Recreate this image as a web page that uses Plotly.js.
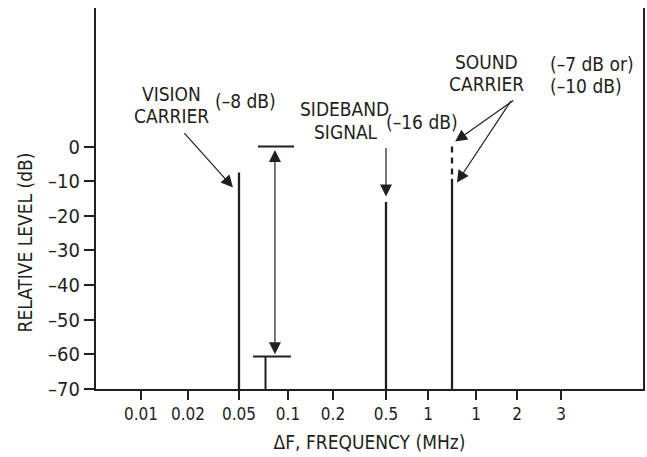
<!DOCTYPE html>
<html><head><meta charset="utf-8">
<script src="https://cdn.plot.ly/plotly-3.0.1.min.js"></script>
<style>html,body{margin:0;padding:0;background:#fff}#chart{width:647px;height:457px}</style>
</head><body><div id="chart"></div>
<script>
// Tick labels of the frequency axis (MHz) and where each sits on the drawn (non-uniform) scale
const tickLabels = ['0.01', '0.02', '0.05', '0.1', '0.2', '0.5', '1', '1', '2', '3'];
const tickScale  = [0, 1.007, 2.1, 3.15, 4.114, 5.25, 6.15, 7.179, 8.057, 9];
const yTickVals  = [0, -10, -20, -30, -40, -50, -60, -70];
const yTickText  = ['0', '–10', '–20', '–30', '–40', '–50', '–60', '–70'];

// Spectral lines: position as (fractional) tick index, level in dB
const signalNames = ['Vision carrier', 'Sideband signal', 'Sound carrier'];
const signalTick  = [2, 5, 6.5];
const signalLevel = [-7.5, -16, -9.3];
const soundAltLevel = 0;      // dashed extension of the sound carrier
const floorLevel = -70;

// Dynamic range bracket (dB)
const rangeTop = 0;
const rangeBottom = -60.6;

const INK = '#231f20';
const FONT = 'DejaVu Sans Condensed, Liberation Sans, Arial, sans-serif';
const TS = 19;

function scaleAt(t) {
  const i = Math.floor(t);
  if (i >= tickScale.length - 1) return tickScale[tickScale.length - 1];
  return tickScale[i] + (t - i) * (tickScale[i + 1] - tickScale[i]);
}

const lx = [], ly = [];
signalTick.forEach((t, k) => {
  const x = scaleAt(t);
  lx.push(x, x, null);
  ly.push(floorLevel, signalLevel[k], null);
});
const soundX = scaleAt(signalTick[2]);

const traces = [
  {x: lx, y: ly, mode: 'lines', line: {color: INK, width: 2.3}, hoverinfo: 'skip', showlegend: false},
  {x: [soundX, soundX], y: [soundAltLevel, signalLevel[2] - 0.2], mode: 'lines',
   line: {color: INK, width: 2.3, dash: '6px,5px'}, hoverinfo: 'skip', showlegend: false}
];

function txt(text, x, y, xanchor) {
  return {text: text, x: x, y: y, xref: 'x', yref: 'y', showarrow: false,
          xanchor: xanchor || 'center', yanchor: 'middle',
          font: {family: FONT, size: TS, color: INK}};
}
function arrow(x, y, ax, ay, both) {
  return {text: '', x: x, y: y, ax: ax, ay: ay, xref: 'x', yref: 'y', axref: 'x', ayref: 'y',
          showarrow: true, arrowhead: 2, arrowsize: 2, arrowwidth: 1.2, arrowcolor: INK,
          arrowside: both ? 'end+start' : 'end', standoff: 0, startstandoff: 0};
}

const annotations = [
  txt('VISION', 0.664, 15.3), txt('CARRIER', 0.664, 8.8), txt('(–8 dB)', 2.25, 13.1),
  txt('SIDEBAND', 4.37, 10.7), txt('SIGNAL', 4.40, 4.3), txt('(–16 dB)', 6.02, 7.07),
  txt('SOUND', 7.40, 24.4), txt('CARRIER', 7.41, 18.0),
  txt('(–7 dB or)', 8.72, 23.7, 'left'), txt('(–10 dB)', 8.72, 17.5, 'left'),
  arrow(1.971, -11.84, 0.9, 4.33),
  arrow(scaleAt(signalTick[1]), -14.4, scaleAt(signalTick[1]), 0),
  arrow(6.73, 1.44, 8.01, 13.6),
  arrow(6.77, -10.4, 7.95, 13.6),
  arrow(2.87, rangeBottom + 0.6, 2.87, rangeTop - 0.6, true),
  {text: 'RELATIVE LEVEL (dB)', x: -0.128, y: -27.7, xref: 'paper', yref: 'y', showarrow: false,
   textangle: -90, xanchor: 'center', yanchor: 'middle', font: {family: FONT, size: TS, color: INK}}
];

const shapes = [
  {type: 'line', xref: 'x', yref: 'y', x0: 2.507, x1: 3.279, y0: rangeTop, y1: rangeTop, line: {color: INK, width: 2}},
  {type: 'line', xref: 'x', yref: 'y', x0: 2.40, x1: 3.214, y0: rangeBottom, y1: rangeBottom, line: {color: INK, width: 2}},
  {type: 'line', xref: 'x', yref: 'y', x0: 2.668, x1: 2.668, y0: rangeBottom, y1: floorLevel, line: {color: INK, width: 2}}
];

const layout = {
  width: 647, height: 457,
  margin: {l: 96, r: 4, t: 8, b: 68},
  paper_bgcolor: '#fff', plot_bgcolor: '#fff',
  showlegend: false,
  xaxis: {
    range: [-0.964, 10.757], tickmode: 'array', tickvals: tickScale, ticktext: tickLabels,
    ticks: 'outside', ticklen: 9, tickwidth: 2, tickcolor: INK,
    showline: true, linewidth: 2, linecolor: INK, showgrid: false, zeroline: false,
    tickfont: {family: FONT, size: 17, color: INK},
    title: {text: 'ΔF, FREQUENCY (MHz)', font: {family: FONT, size: TS, color: INK}, standoff: 12}
  },
  yaxis: {
    range: [-70, 40], tickmode: 'array', tickvals: yTickVals, ticktext: yTickText,
    ticks: 'outside', ticklen: 10, tickwidth: 2, tickcolor: INK,
    showline: true, mirror: true, linewidth: 2, linecolor: INK, showgrid: false, zeroline: false,
    tickfont: {family: FONT, size: 20, color: INK}
  },
  annotations: annotations,
  shapes: shapes
};

Plotly.newPlot('chart', traces, layout, {displayModeBar: false, staticPlot: true});
</script>
</body></html>
